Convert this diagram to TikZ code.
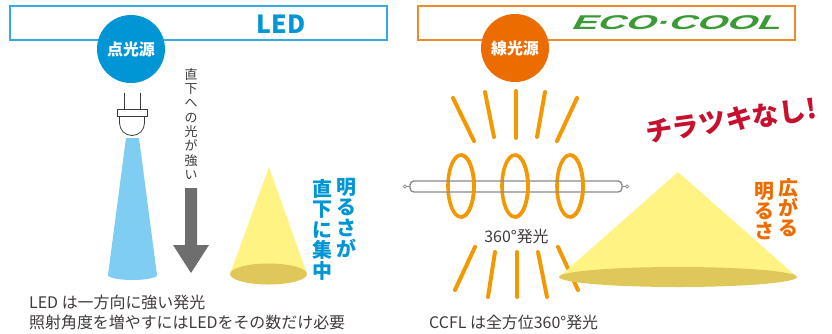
\documentclass[tikz,border=0pt]{standalone}
\usepackage{fontspec}
\newfontfamily\jp{Noto Sans CJK JP}
\newfontfamily\logofont{Liberation Sans}[FakeSlant=0.28]
\definecolor{ledblue}{HTML}{0096D6}
\definecolor{boxblue}{HTML}{36A9E1}
\definecolor{beamblue}{HTML}{7FCDF3}
\definecolor{ccflorange}{HTML}{EC6C00}
\definecolor{boxorange}{HTML}{EF8A2A}
\definecolor{rayorange}{HTML}{F39800}
\definecolor{conelight}{HTML}{FFF383}
\definecolor{conedark}{HTML}{DFC75A}
\definecolor{ecogreen}{HTML}{3A9A35}
\definecolor{flickred}{HTML}{C8102E}
\definecolor{arrowgray}{HTML}{6E6E6E}
\definecolor{txtgray}{HTML}{3E3A39}
\definecolor{tubegray}{HTML}{8A8A8A}
\begin{document}
\begin{tikzpicture}[x=1bp,y=-1bp,
  txt/.style={inner sep=0, text=txtgray, font=\jp\fontsize{16}{19}\selectfont},
  vcol/.style={inner sep=0, align=center, anchor=north},
  headbox/.style={line width=2, fill=white},
  badge/.style={circle, minimum size=68bp, inner sep=0, text=white,
    font=\jp\bfseries\fontsize{16}{19}\selectfont},
  ray/.style={draw=rayorange, line width=4, line cap=round},
  ring/.style={draw=rayorange, line width=3.6},
  lampline/.style={draw=txtgray, line width=0.8}]
\useasboundingbox (0,0) rectangle (832,333);

% ---------- LED side ----------
\draw[headbox, draw=boxblue] (10,6) rectangle (387,40);
\node[inner sep=0, text=ledblue, font=\jp\bfseries\fontsize{25}{28}\selectfont] (ledtitle) at (281,24) {LED};
\node[badge, fill=ledblue] (pointsrc) at (131,49) {点光源};

% LED lamp: pins, flange and dome
\draw[lampline] (124,93) -- (124,109) (140,93) -- (140,109);
\draw[lampline, fill=white] (117,109) rectangle (147,116);
\draw[lampline] (119.5,116) -- (119.5,123) arc[start angle=180, end angle=0, x radius=12.5, y radius=12.5] -- (144.5,116);

% narrow beam
\fill[beamblue] (126,138) -- (108,275)
  arc[start angle=180, end angle=0, x radius=24.5, y radius=5] -- (139,138) -- cycle;

% downward arrow with its caption
\node[vcol, text=txtgray, font=\jp\fontsize{13}{14.4}\selectfont] (downlabel) at (191,68)
  {直\\下\\へ\\の\\光\\が\\強\\い};
\fill[arrowgray] (185,188) -- (197,188) -- (197,245) -- (209,245) -- (191,273)
  -- (173,245) -- (185,245) -- cycle;

% narrow cone
\fill[conelight] (269,167) -- (230,274) -- (307,274) -- cycle;
\fill[conedark] (268.5,274) ellipse[x radius=38.5, y radius=10.5];

\node[vcol, text=ledblue, font=\jp\bfseries\fontsize{20}{20.6}\selectfont] (ledcol1) at (346,178)
  {明\\る\\さ\\が};
\node[vcol, text=ledblue, font=\jp\bfseries\fontsize{20}{20.6}\selectfont] (ledcol2) at (322,179)
  {直\\下\\に\\集\\中};

\node[txt, anchor=west] (ledline1) at (29,302) {LED は一方向に強い発光};
\node[txt, anchor=west] (ledline2) at (29,322) {照射角度を増やすにはLEDをその数だけ必要};

% ---------- CCFL side ----------
\draw[headbox, draw=boxorange] (418,6) rectangle (795,40);
\node[inner sep=0, text=ecogreen, font=\logofont\bfseries\fontsize{20}{22}\selectfont] (ecotitle) at (675,23)
  {\scalebox{1.95}[1]{ECO·COOL}};
\node[badge, fill=ccflorange] (linesrc) at (515,48) {線光源};

% rays above the tube
\draw[ray] (453,98) -- (474,141);
\draw[ray] (485,92) -- (494,137);
\draw[ray] (516,91) -- (516,138);
\draw[ray] (545,92) -- (537,137);
\draw[ray] (577,98) -- (557,141);
% rays below the tube
\draw[ray] (475,247) -- (455,290);
\draw[ray] (495,252) -- (488,297);
\draw[ray] (517,252) -- (517,297);
\draw[ray] (538,252) -- (547,297);
\draw[ray] (558,247) -- (578,290);

% rings around the tube
\foreach \cx in {461,515,570}
  \draw[ring] (\cx,186) ellipse[x radius=13, y radius=31];

% fluorescent tube
\draw[draw=tubegray, line width=1.4, rounded corners=4] (410,181) rectangle (622,192);
\draw[draw=tubegray, line width=0.9] (410,186.5) -- (406,186.5) (622,186.5) -- (626,186.5);
\draw[draw=tubegray, line width=0.8, fill=white] (405,186.5) circle[radius=1.6] (627,186.5) circle[radius=1.6];

% front halves of the rings pass over the tube
\foreach \cx in {461,515,570}
  \draw[ring] (\cx,155) arc[start angle=-90, end angle=90, x radius=13, y radius=31];

\node[txt] (omni) at (516.5,236) {360°発光};

% wide cone
\fill[conelight] (678,172) -- (559,277) -- (797,277) -- cycle;
\fill[conedark] (678,277) ellipse[x radius=119, y radius=10];

\node[vcol, text=ccflorange, font=\jp\bfseries\fontsize{20}{20}\selectfont] (ccflcol1) at (788,178)
  {広\\が\\る};
\node[vcol, text=ccflorange, font=\jp\bfseries\fontsize{20}{20}\selectfont] (ccflcol2) at (764,182)
  {明\\る\\さ};

\node[inner sep=0, text=flickred, rotate=8, font=\jp\bfseries\fontsize{27}{30}\selectfont] (noflicker) at (731,120)
  {チラツキなし!};

\node[txt, anchor=west] (ccflline) at (429,322) {CCFL は全方位360°発光};
\end{tikzpicture}
\end{document}
